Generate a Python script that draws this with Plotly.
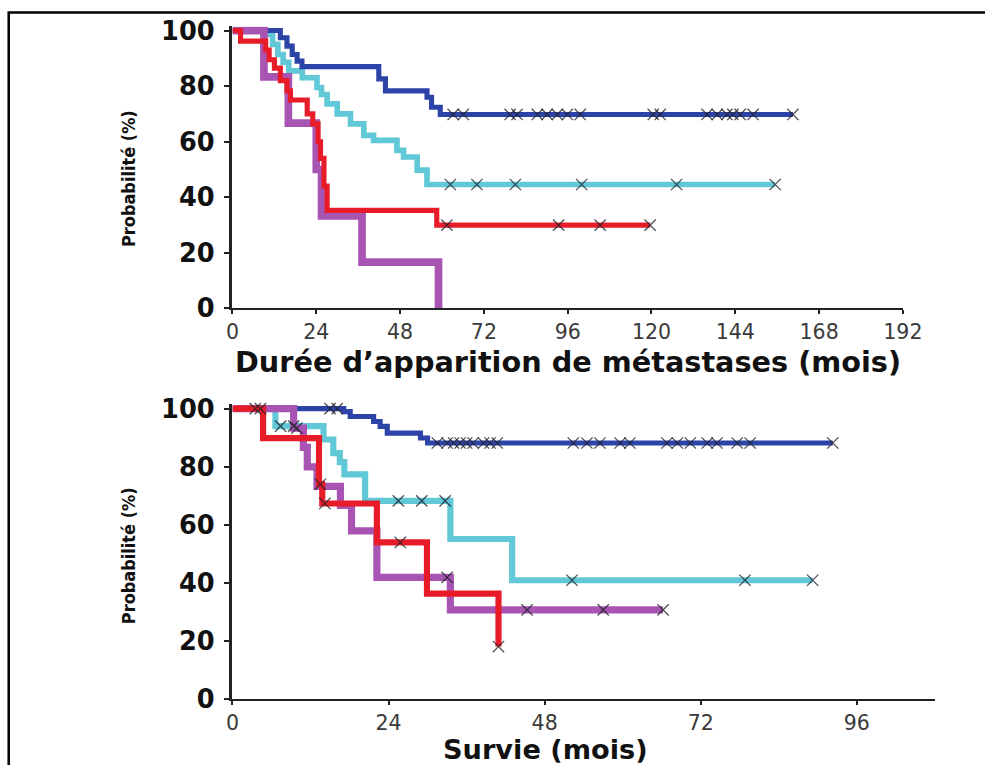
import numpy as np
import plotly.graph_objects as go

# ---------------- DATA ----------------
# Top panel: Durée d'apparition de métastases (mois)
top_blue_t = [0, 13.7, 15.6, 17.1, 18.5, 19.9, 41.9, 43.8, 55.7, 57.0, 59.5]
top_blue_s = [100, 97.4, 94.4, 91.4, 89.0, 87.0, 82.6, 78.3, 76.0, 72.4, 69.8]
top_blue_end = 160.5
top_blue_cens = [63.2, 66.1, 79.5, 81.5, 87.3, 90.1, 93.0, 95.9, 99.6, 120.5, 122.5,
                 135.9, 138.8, 141.6, 143.3, 145.4, 149.1, 160.5]

top_cyan_t = [0, 9.0, 11.5, 13.0, 14.5, 16.1, 20.0, 24.2, 25.5, 27.1, 30.0, 33.8, 37.6,
              40.4, 47.1, 49.0, 52.9, 55.7]
top_cyan_s = [100, 98.6, 95.0, 91.4, 88.6, 85.5, 83.0, 79.5, 77.0, 73.6, 70.0, 66.4, 62.3,
              60.5, 56.9, 54.5, 49.8, 44.6]
top_cyan_end = 155.4
top_cyan_cens = [62.4, 70.0, 81.0, 100.0, 127.2, 155.4]

top_red_t = [0, 2.3, 9.5, 10.5, 12.0, 13.7, 15.6, 16.6, 21.4, 23.0, 24.5, 25.2, 26.2, 27.1, 58.5]
top_red_s = [100, 96.2, 93.0, 89.5, 86.5, 82.0, 78.3, 75.0, 70.0, 66.4, 60.0, 54.0, 44.0, 35.3, 30.0]
top_red_end = 119.6
top_red_cens = [61.4, 93.4, 105.3, 119.6]

top_purple_t = [0, 9.0, 16.0, 24.0, 25.5, 37.1, 59.0]
top_purple_s = [100, 83.3, 66.7, 50.0, 33.3, 16.7, 0]
top_purple_end = 59.0
top_purple_cens = []

# Bottom panel: Survie (mois)
bot_blue_t = [0, 17.1, 18.1, 21.7, 22.7, 23.8, 28.9, 30.0]
bot_blue_s = [100, 99.0, 97.3, 95.6, 93.9, 91.6, 89.9, 88.2]
bot_blue_end = 92.3
bot_blue_cens = [3.5, 15.0, 16.1, 31.5, 33.0, 34.0, 35.0, 36.0, 37.0, 38.6, 39.6, 40.7,
                 52.4, 54.5, 56.5, 59.6, 61.1, 66.8, 68.4, 70.4, 73.0, 74.5, 77.6, 79.6, 92.3]

bot_cyan_t = [0, 6.6, 14.0, 15.5, 16.5, 17.2, 20.4, 33.5, 43.0]
bot_cyan_s = [100, 94.0, 89.4, 84.7, 81.6, 77.4, 68.3, 55.2, 41.0]
bot_cyan_end = 89.2
bot_cyan_cens = [7.4, 9.4, 25.5, 29.1, 32.7, 52.2, 78.8, 89.2]

bot_red_t = [0, 4.7, 13.3, 13.8, 22.2, 29.9, 40.9]
bot_red_s = [100, 89.9, 74.0, 67.4, 54.0, 36.4, 18.2]
bot_red_end = 40.9
bot_red_cens = [4.3, 13.5, 14.2, 25.8, 40.9]

bot_purple_t = [0, 9.4, 10.9, 11.5, 13.0, 16.6, 18.3, 22.2, 33.5]
bot_purple_s = [100, 93.3, 86.7, 80.0, 73.3, 66.7, 58.0, 42.0, 30.8]
bot_purple_end = 66.2
bot_purple_cens = [9.9, 33.0, 45.3, 57.0, 66.2]

top_xticks = [0, 24, 48, 72, 96, 120, 144, 168, 192]
bot_xticks = [0, 24, 48, 72, 96]
yticks = [0, 20, 40, 60, 80, 100]

# ---------------- STYLE ----------------
BLUE = "rgb(44,68,168)"
CYAN = "rgb(96,200,214)"
RED = "rgb(232,28,40)"
PURPLE = "rgb(168,84,178)"

# observed mapping of figure pixels to the photographed picture: pic = S*fig + O
S, O = 0.974, 6.3
W, H = 1005, 780


def fx(px):  # picture pixel x -> paper fraction
    return ((px - O) / S) / W


def fy(py):  # picture pixel y -> paper fraction
    return (H - (py - O) / S) / H


def fs(size):  # desired on-picture size -> layout size
    return size / S


def step_at(t, s, x):
    idx = np.searchsorted(np.array(t), x, side="right") - 1
    return [s[i] for i in idx]


fig = go.Figure()


def add_curve(t, s, end, color, width, xa, ya):
    xs = list(t) + [end]
    ys = list(s) + [s[-1]]
    fig.add_trace(go.Scatter(x=xs, y=ys, mode="lines", line=dict(color=color, width=fs(width), shape="hv"),
                             xaxis=xa, yaxis=ya, showlegend=False, hoverinfo="skip"))


def add_cens(t, s, cens, xa, ya):
    if not cens:
        return
    fig.add_trace(go.Scatter(x=cens, y=step_at(t, s, cens), mode="markers",
                             marker=dict(symbol="x-thin", size=fs(11),
                                         line=dict(color="rgba(35,35,45,0.8)", width=1.3)),
                             xaxis=xa, yaxis=ya, showlegend=False, hoverinfo="skip", cliponaxis=False))


top = [
    (top_cyan_t, top_cyan_s, top_cyan_end, top_cyan_cens, CYAN, 5.5),
    (top_blue_t, top_blue_s, top_blue_end, top_blue_cens, BLUE, 5),
    (top_purple_t, top_purple_s, top_purple_end, top_purple_cens, PURPLE, 7.5),
    (top_red_t, top_red_s, top_red_end, top_red_cens, RED, 5),
]
bot = [
    (bot_cyan_t, bot_cyan_s, bot_cyan_end, bot_cyan_cens, CYAN, 6),
    (bot_blue_t, bot_blue_s, bot_blue_end, bot_blue_cens, BLUE, 5),
    (bot_purple_t, bot_purple_s, bot_purple_end, bot_purple_cens, PURPLE, 7),
    (bot_red_t, bot_red_s, bot_red_end, bot_red_cens, RED, 6),
]
for t, s, e, c, col, w in top:
    add_curve(t, s, e, col, w, "x", "y")
for t, s, e, c, col, w in bot:
    add_curve(t, s, e, col, w, "x2", "y2")
for t, s, e, c, col, w in top:
    add_cens(t, s, c, "x", "y")
for t, s, e, c, col, w in bot:
    add_cens(t, s, c, "x2", "y2")

AX = "#222222"
xtick_font = dict(family="DejaVu Sans", size=fs(20), color="#3a3a3a")
ytick_font = dict(family="DejaVu Sans", size=fs(25), color="#111111", weight="bold")

common_x = dict(showline=True, linecolor=AX, linewidth=2, ticks="outside", ticklen=4,
                tickwidth=2, tickcolor=AX, showgrid=False, zeroline=False,
                tickfont=xtick_font, ticklabelstandoff=0)
common_y = dict(showline=True, linecolor=AX, linewidth=2.5, ticks="outside", ticklen=6,
                tickwidth=2, tickcolor=AX, showgrid=False, zeroline=False,
                tickfont=ytick_font, tickvals=yticks, ticklabelstandoff=4)

top_y0, top_y1 = 306, 21.8
bot_y0, bot_y1 = 700, 402.6

fig.update_layout(
    width=W, height=H, margin=dict(l=0, r=0, t=0, b=0),
    paper_bgcolor="white", plot_bgcolor="white",
    xaxis=dict(domain=[fx(232), fx(903)], range=[0, 192], tickvals=top_xticks, anchor="y", **common_x),
    yaxis=dict(domain=[fy(top_y0), fy(top_y1)], range=[0, 101.5], anchor="x", **common_y),
    xaxis2=dict(domain=[fx(232), fx(935)], range=[0, 108], tickvals=bot_xticks, anchor="y2", **common_x),
    yaxis2=dict(domain=[fy(bot_y0), fy(bot_y1)], range=[0, 101.5], anchor="x2", **common_y),
)

title_font_top = dict(family="DejaVu Sans", size=fs(28), color="#111111", weight="bold")
title_font_bot = dict(family="DejaVu Sans", size=fs(26.5), color="#111111", weight="bold")
ylab_font = dict(family="DejaVu Sans Condensed, Liberation Sans Narrow, Liberation Sans", size=fs(17.5),
                 color="#111111", weight="bold")

fig.add_annotation(text="Durée d’apparition de métastases (mois)", xref="paper", yref="paper",
                   x=fx(568), y=fy(360), showarrow=False,
                   xanchor="center", yanchor="middle", font=title_font_top)
fig.add_annotation(text="Survie (mois)", xref="paper", yref="paper",
                   x=fx(545), y=fy(750), showarrow=False,
                   xanchor="center", yanchor="middle", font=title_font_bot)
fig.add_annotation(text="Probabilité (%)", xref="paper", yref="paper",
                   x=fx(128), y=fy(175), showarrow=False, textangle=-90,
                   xanchor="center", yanchor="middle", font=ylab_font)
fig.add_annotation(text="Probabilité (%)", xref="paper", yref="paper",
                   x=fx(128), y=fy(555), showarrow=False, textangle=-90,
                   xanchor="center", yanchor="middle", font=ylab_font)

# outer frame (left and top edges visible)
fig.add_shape(type="rect", xref="paper", yref="paper", x0=fx(8), x1=1.05, y0=-0.05, y1=1 - 1.5 / H,
              line=dict(color="black", width=2.5), fillcolor="rgba(0,0,0,0)", layer="above")

fig.write_html("out.html")
